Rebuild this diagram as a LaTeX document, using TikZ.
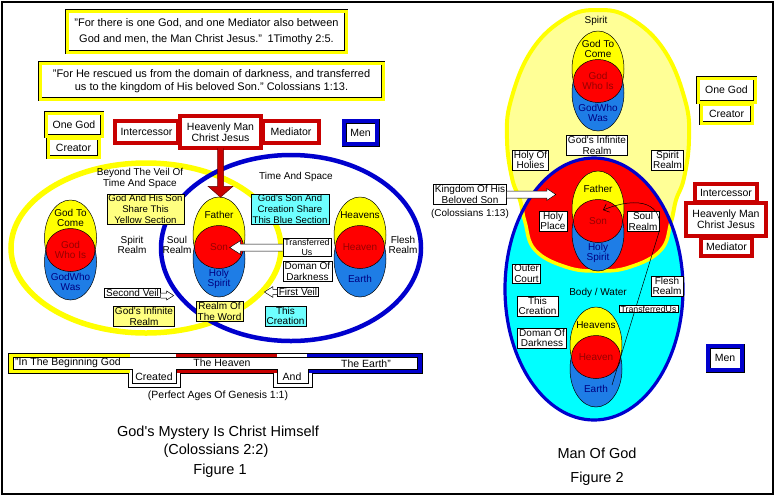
\documentclass[tikz,border=0pt]{standalone}
\usepackage{fontspec}
\setmainfont{Liberation Sans}
\usetikzlibrary{calc,arrows.meta}

\definecolor{eggyellow}{RGB}{255,255,0}
\definecolor{eggred}{RGB}{255,0,0}
\definecolor{eggblue}{RGB}{30,125,230}
\definecolor{ringblue}{RGB}{0,0,205}
\definecolor{framered}{RGB}{200,0,0}
\definecolor{paleyellow}{RGB}{255,255,128}
\definecolor{palecyan}{RGB}{110,255,255}
\definecolor{spiritfill}{RGB}{255,255,150}
\definecolor{bodycyan}{RGB}{0,255,255}
\definecolor{darkred}{RGB}{150,0,0}
\definecolor{navy}{RGB}{0,0,128}

\newcommand{\lblfont}{\fontsize{10}{10.6}\selectfont}
\newcommand{\framefont}{\fontsize{10.5}{11}\selectfont}
\newcommand{\smallfont}{\fontsize{8.8}{9.6}\selectfont}
\newcommand{\bannerfont}{\fontsize{10.5}{12}\selectfont}
\newcommand{\capfont}{\fontsize{14.5}{17}\selectfont}

\tikzset{
	yframe/.style={draw=black, line width=0.5pt, double=eggyellow, double distance=3pt, fill=white, inner sep=0pt, align=center, font=\framefont},
	rframe/.style={yframe, double=framered, double distance=3.5pt},
	bframe/.style={yframe, double=ringblue, double distance=4pt},
	lbl/.style={draw=black, line width=0.5pt, fill=white, inner xsep=1.5pt, inner ysep=0.8pt, align=center, font=\lblfont},
	txt/.style={align=center, font=\lblfont, inner sep=0pt},
	eggline/.style={draw=black, line width=0.5pt},
	blockarrow/.style={draw=black, line width=0.5pt, fill=white}
}

% name, x, y, top, middle, bottom
\newcommand{\eggtrio}[6]{%
	\begin{scope}
		\clip ({#2-30},{#3-60}) rectangle ({#2+30},#3);
		\filldraw[eggline, fill=eggyellow] (#2,{#3-12}) ellipse [x radius=26pt, y radius=38pt];
	\end{scope}
	\begin{scope}
		\clip ({#2-30},#3) rectangle ({#2+30},{#3+60});
		\filldraw[eggline, fill=eggblue] (#2,{#3+12}) ellipse [x radius=26pt, y radius=38pt];
	\end{scope}
	\filldraw[eggline, fill=eggred] (#2,#3) ellipse [x radius=24.5pt, y radius=21.5pt];
	\node[txt] (#1top) at (#2,{#3-32}) {#4};
	\node[txt, text=darkred] (#1mid) at (#2,#3) {#5};
	\node[txt, text=navy] (#1bot) at (#2,{#3+32}) {#6};
}

\newcommand{\spiritegg}{plot[smooth cycle, tension=0.7] coordinates {(598,10) (630,18) (664,50) (685,100) (689,139) (684,178) (676,200) (671,222) (661,250) (630,267) (598,271) (566,267) (535,250) (525,222) (520,200) (512,178) (507,139) (511,100) (532,50) (566,18)}}

\begin{document}
\begin{tikzpicture}[x=1pt, y=-1pt]
	\useasboundingbox (0,0) rectangle (779,499);
	\fill[white] (0,0) rectangle (779,499);
	\draw[line width=1.2pt] (2,2) rectangle (773,494);
	
	% quotes
	\node[yframe, minimum width=279pt, minimum height=41pt, font=\fontsize{11}{16}\selectfont] (quoteA) at (206.5,31.5) {"For there is one God, and one Mediator also between\\God and men, the Man Christ Jesus."\enspace 1Timothy 2:5.};
	\node[yframe, minimum width=343pt, minimum height=36pt, font=\fontsize{11}{13}\selectfont] (quoteB) at (211.5,81) {"For He rescued us from the domain of darkness, and transferred\\us to the kingdom of His beloved Son." Colossians 1:13.};
	
	% figure 1 frames
	\node[yframe, minimum width=51pt, minimum height=19pt] (creatorL) at (73.5,147.5) {Creator};
	\node[yframe, minimum width=56pt, minimum height=23pt] (onegodL) at (74,124.5) {One God};
	\node[rframe, minimum width=63pt, minimum height=22pt] (intercessorL) at (146.5,132) {Intercessor};
	\node[rframe, minimum width=56pt, minimum height=22pt] (mediatorL) at (291,132) {Mediator};
	\node[rframe, minimum width=81pt, minimum height=32pt] (heavenlyL) at (220.5,132) {Heavenly Man\\Christ Jesus};
	\node[bframe, minimum width=33pt, minimum height=23pt] (menL) at (360.5,132.5) {Men};
	
	% figure 1 realms
	\draw[eggyellow, line width=5.5pt] (146,248) ellipse [x radius=135pt, y radius=85pt];
	\draw[ringblue, line width=4.5pt] (291,248) ellipse [x radius=130pt, y radius=93pt];
	
	\eggtrio{godL}{70.5}{250}{God To\\Come}{God\\Who Is}{GodWho\\Was}
	\eggtrio{sonL}{219}{247}{Father}{Son}{Holy\\Spirit}
	\eggtrio{hvnL}{360}{247}{Heavens}{Heaven}{Earth}
	
	\node[txt] (beyond) at (140,178.5) {Beyond The Veil Of\\Time And Space};
	\node[txt] (timespace) at (296,177) {Time And Space};
	\node[txt] (spiritL) at (132,245) {Spirit\\Realm};
	\node[txt] (soulL) at (177,245) {Soul\\Realm};
	\node[txt] (fleshL) at (403,245) {Flesh\\Realm};
	
	\node[lbl, fill=paleyellow, font=\fontsize{9.6}{10.6}\selectfont] (yellowsec) at (145.5,209) {God And His Son\\Share This\\Yellow Section};
	\node[lbl, fill=palecyan, font=\fontsize{9.6}{10.6}\selectfont] (bluesec) at (290,209) {God\textquotesingle s Son And\\Creation Share\\This Blue Section};
	\node[lbl] (secondveil) at (132.5,293) {Second Veil};
	\node[lbl, fill=paleyellow] (infL) at (144,316.5) {God\textquotesingle s Infinite\\Realm};
	\node[lbl, fill=paleyellow] (wordL) at (219.5,311.5) {Realm Of\\The Word};
	\node[lbl, font=\smallfont] (transL) at (307,247.5) {Transferred\\Us};
	\node[lbl] (domanL) at (307.5,271.5) {Doman Of\\Darkness};
	\node[lbl] (firstveil) at (298,292) {First Veil};
	\node[lbl, fill=palecyan] (creationL) at (285.5,316) {This\\Creation};
	
	\filldraw[blockarrow] ($(secondveil.east)+(0,0)$) -- ++(6,0) -- ++(0,-2) -- ++(7,4.5) -- ++(-7,4.5) -- ++(0,-2) -- ++(-6,0);
	\filldraw[blockarrow] ($(firstveil.west)+(0,-2.7)$) -- ++(-4.3,0) -- ++(0,-2.6) -- ++(-8.4,5.3) -- ++(8.4,5.3) -- ++(0,-2.6) -- ++(4.3,0);
	\filldraw[blockarrow] ($(transL.west)+(0,-3.5)$) -- ++(-42,0) -- ++(0,-3.5) -- ++(-11,7) -- ++(11,7) -- ++(0,-3.5) -- ++(42,0);
	\filldraw[fill=framered, draw=black!50!framered, line width=0.5pt] ($(heavenlyL.south)+(-3,0)$) -- ++(0,38) -- ++(-9.5,0) -- ++(12.5,11) -- ++(12.5,-11) -- ++(-9.5,0) -- ++(0,-38);
	
	% banner
	\begin{scope}
		\clip (8,353) -- (422,353) -- (422,373) -- (312,373) -- (312,387) -- (273,387) -- (273,373) -- (180,373) -- (180,387) -- (128,387) -- (128,373) -- (8,373) -- cycle;
		\fill[white] (8,353) rectangle (422,387);
		\fill[eggyellow] (8,353) rectangle (130,373);
		\fill[framered] (176,353) rectangle (277,373);
		\fill[ringblue] (307,353) rectangle (422,373);
	\end{scope}
	\filldraw[fill=white, line width=0.5pt] (13,357) -- (417,357) -- (417,369) -- (308,369) -- (308,383) -- (277,383) -- (277,369) -- (176,369) -- (176,383) -- (132,383) -- (132,369) -- (13,369) -- cycle;
	\draw[line width=0.6pt] (8,353) -- (422,353) -- (422,373) -- (312,373) -- (312,387) -- (273,387) -- (273,373) -- (180,373) -- (180,387) -- (128,387) -- (128,373) -- (8,373) -- cycle;
	\node[txt, anchor=west, font=\bannerfont] (beginning) at (15,363) {"In The Beginning God};
	\node[txt, font=\bannerfont] (created) at (154,376.5) {Created};
	\node[txt, font=\bannerfont] (theheaven) at (222,363) {The Heaven};
	\node[txt, font=\bannerfont] (and) at (292,376.5) {And};
	\node[txt, anchor=east, font=\bannerfont] (theearth) at (391,364) {The Earth"};
	\node[txt, font=\bannerfont] (perfect) at (218,396) {(Perfect Ages Of Genesis 1:1)};
	
	\node[txt, font=\capfont] (mystery) at (218,433) {God\textquotesingle s Mystery Is Christ Himself};
	\node[txt, font=\capfont] (col22) at (216,451) {(Colossians 2:2)};
	\node[txt, font=\capfont] (fig1) at (220,471) {Figure 1};
	
	% figure 2
	\filldraw[draw=eggyellow, line width=4pt, fill=spiritfill] \spiritegg;
	\fill[bodycyan] (594,289) ellipse [x radius=89pt, y radius=131pt];
	\begin{scope}
		\clip (594,289) ellipse [x radius=89pt, y radius=131pt];
		\filldraw[draw=eggyellow, line width=3.5pt, fill=eggred] \spiritegg;
	\end{scope}
	\draw[ringblue, line width=3.2pt] (594,289) ellipse [x radius=89pt, y radius=131pt];
	
	\node[txt] (spiritR) at (596,21) {Spirit};
	\eggtrio{godR}{598}{81}{God To\\Come}{God\\Who Is}{GodWho\\Was}
	\node[lbl] (infR) at (597,145.5) {God\textquotesingle s Infinite\\Realm};
	\node[lbl] (holies) at (530.5,160) {Holy Of\\Holies};
	\node[lbl] (spiritrealm) at (667.5,160) {Spirit\\Realm};
	\eggtrio{sonR}{598}{221}{Father}{Son}{Holy\\Spirit}
	\node[lbl] (kingdom) at (470,194.5) {Kingdom Of His\\Beloved Son};
	\node[txt] (col113) at (470,214) {(Colossians 1:13)};
	\node[lbl] (holyplace) at (553,221) {Holy\\Place};
	\node[lbl] (soulR) at (643,221.5) {Soul\\Realm};
	\node[txt] (bodywater) at (598,293) {Body / Water};
	\node[lbl] (outercourt) at (526.5,273.5) {Outer\\Court};
	\node[lbl] (fleshR) at (667,286) {Flesh\\Realm};
	\node[lbl] (creationR) at (537.5,306) {This\\Creation};
	\eggtrio{hvnR}{596}{357}{Heavens}{Heaven}{Earth}
	\draw[line width=0.5pt, -{Straight Barb[length=5pt, width=9pt]}] ($(hvnRbot)+(16,-4)$) -- (659,232) .. controls (664,204) and (640,195) .. ($(sonRmid)+(5,-11)$);
	\node[lbl, font=\smallfont, inner ysep=0.3pt] (transR) at (648.5,309) {TransferredUs};
	\node[lbl] (domanR) at (542,338) {Doman Of\\Darkness};
	\filldraw[blockarrow] ($(kingdom.east)+(0,-3.5)$) -- ++(40,0) -- ++(0,-2.5) -- ++(9,6) -- ++(-9,6) -- ++(0,-2.5) -- ++(-40,0);
	
	\node[yframe, minimum width=51pt, minimum height=19pt] (creatorR) at (726.5,113.5) {Creator};
	\node[yframe, minimum width=57pt, minimum height=24pt] (onegodR) at (726.5,90) {One God};
	\node[rframe, minimum width=62pt, minimum height=18pt] (intercessorR) at (726,193) {Intercessor};
	\node[rframe, minimum width=51pt, minimum height=18pt] (mediatorR) at (726.5,247) {Mediator};
	\node[rframe, minimum width=80pt, minimum height=33pt] (heavenlyR) at (726,219.5) {Heavenly Man\\Christ Jesus};
	\node[bframe, minimum width=34pt, minimum height=24pt] (menR) at (725,358) {Men};
	
	\node[txt, font=\capfont] (manofgod) at (597,453) {Man Of God};
	\node[txt, font=\capfont] (fig2) at (597,479) {Figure 2};
\end{tikzpicture}
\end{document}
